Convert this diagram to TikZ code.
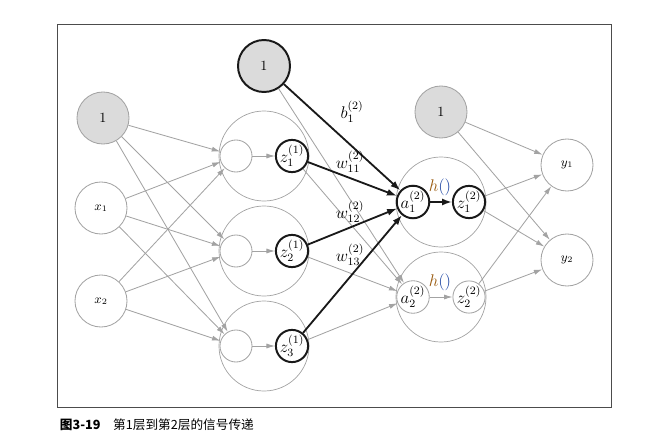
\documentclass[tikz,border=0pt]{standalone}
\usepackage{amsmath}
\usepackage{fontspec}
\usepackage{xcolor}
\usepackage{tikz}
\usetikzlibrary{shapes,arrows,arrows.meta,positioning}
\newfontfamily\cjk{Noto Sans CJK SC}
\definecolor{edgegray}{gray}{0.64}
\definecolor{biasgray}{gray}{0.86}
\definecolor{hcolor}{rgb}{0.6,0.35,0.05}
\definecolor{pcolor}{rgb}{0.15,0.3,0.65}

\begin{document}
\begin{tikzpicture}[x=0.025cm, y=-0.025cm]
    \tikzstyle{neuron} = [circle, draw=edgegray, line width=0.6pt, minimum size=1.3cm, inner sep=0pt]
    \tikzstyle{bias} = [neuron, fill=biasgray]
    \tikzstyle{layer} = [circle, draw=edgegray, line width=0.5pt, minimum size=2.25cm, inner sep=0pt]
    \tikzstyle{unit} = [circle, draw=edgegray, line width=0.6pt, minimum size=0.8cm, inner sep=0pt, font=\large]
    \tikzstyle{active} = [unit, draw=black!90, line width=1.4pt]
    \tikzstyle{line} = [draw=edgegray, line width=0.6pt, -{Latex[length=6pt,width=3.6pt]}]
    \tikzstyle{bold} = [draw=black!90, line width=1.3pt, -{Latex[length=7pt,width=5pt]}]
    \tikzstyle{weight} = [font=\large, inner sep=1pt]
    \useasboundingbox (0,0) rectangle (665,447);
    \draw [black!70, line width=0.7pt] (57,24) rectangle (611,407);

    % input layer
    \node [bias] (b0) at (103,118) {1};
    \node [neuron] (x1) at (101,208) {\small $x_1$};
    \node [neuron] (x2) at (101,301) {\small $x_2$};

    % first layer
    \foreach \i/\y in {1/156, 2/251, 3/346} {
        \node [layer] (L\i) at (264,\y) {};
        \node [unit] (s\i) at (236,\y) {};
        \node [active] (z\i) at (292,\y) {$z^{(1)}_{\i}$};
    }
    \node [bias, draw=black!90, line width=1.4pt] (b1) at (264,66) {1};

    % second layer
    \node [layer] (M1) at (441,202) {};
    \node [layer] (M2) at (441,297) {};
    \node [active] (a1) at (413,202) {$a^{(2)}_1$};
    \node [active] (c1) at (469,202) {$z^{(2)}_1$};
    \node [unit] (a2) at (413,297) {$a^{(2)}_2$};
    \node [unit] (c2) at (469,297) {$z^{(2)}_2$};
    \node [bias] (b2) at (441,112) {1};

    % output layer
    \node [neuron] (y1) at (567,165) {\small $y_1$};
    \node [neuron] (y2) at (567,260) {\small $y_2$};

    \foreach \s in {b0,x1,x2}
        \foreach \t in {s1,s2,s3}
            \path [line] (\s) -- (\t);
    \foreach \i in {1,2,3}
        \path [line] (s\i) -- (z\i);

    \foreach \s in {b1,z1,z2,z3}
        \path [line] (\s) -- (a2);
    \foreach \s in {b1,z1,z2,z3}
        \path [bold] (\s) -- (a1);

    \path [bold] (a1) -- (c1);
    \path [line] (a2) -- (c2);

    \foreach \s in {b2,c1,c2}
        \foreach \t in {y1,y2}
            \path [line] (\s) -- (\t);

    % labels
    \node [weight] (lb) at (352,112) {$b^{(2)}_1$};
    \node [weight] (lw1) at (350,162) {$w^{(2)}_{11}$};
    \node [weight] (lw2) at (350,212) {$w^{(2)}_{12}$};
    \node [weight] (lw3) at (350,255) {$w^{(2)}_{13}$};
    \node [weight] (lh1) at (440,187) {$\color{hcolor}h\color{pcolor}()$};
    \node [weight] (lh2) at (440,282) {$\color{hcolor}h\color{pcolor}()$};

    \node [anchor=west] (cap) at (55,425) {\cjk\small {\bfseries 图3-19}\quad 第1层到第2层的信号传递};
\end{tikzpicture}
\end{document}
